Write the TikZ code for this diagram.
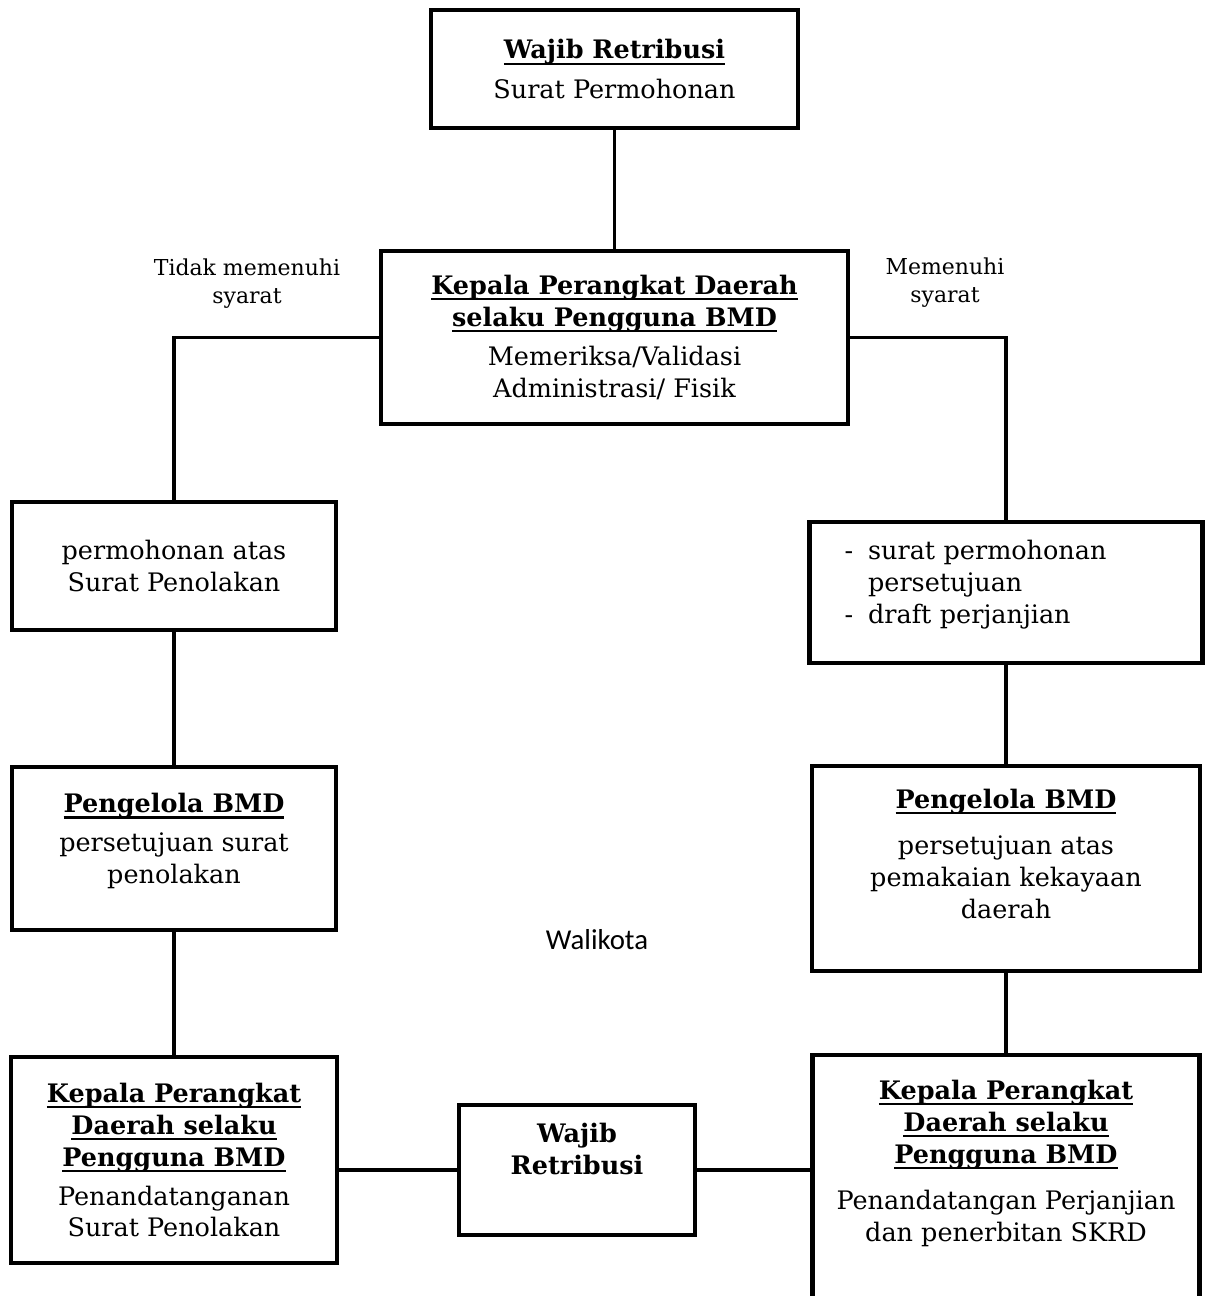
\documentclass[tikz,border=0pt]{standalone}
\usepackage{fontspec}
\setmainfont{DejaVu Serif}
\newfontfamily\walifont{Carlito}
\usetikzlibrary{positioning}

\newsavebox\headbox
\newcommand{\ulhead}[1]{\sbox\headbox{\textbf{#1}}\usebox\headbox\llap{\rule[-3.2pt]{\wd\headbox}{1.2pt}}}

\begin{document}
\begin{tikzpicture}[node distance=3cm,on grid,
        box/.style={draw,line width=2.3pt,align=center,inner sep=2pt,
                    font=\fontsize{14.5pt}{18.2pt}\selectfont},
        note/.style={align=center,font=\fontsize{12.5pt}{15.9pt}\selectfont},
        link/.style={line width=1.8pt}]
        \useasboundingbox (0,0) rectangle (24.16,-25.92);
        \node[box,minimum width=7.34cm,minimum height=2.36cm] (wr) at (12.29,-1.38)
            {\ulhead{Wajib Retribusi}\\[4pt]Surat Permohonan};
        \node[box,minimum width=9.34cm,minimum height=3.46cm] (kpd) [below=5.37cm of wr]
            {\ulhead{Kepala Perangkat Daerah}\\\ulhead{selaku Pengguna BMD}\\[4pt]Memeriksa/Validasi\\Administrasi/ Fisik};
        \node[box,minimum width=6.48cm,minimum height=2.56cm] (plk) [below left=4.57cm and 8.81cm of kpd]
            {permohonan atas\\Surat Penolakan};
        \node[box,minimum width=6.48cm,minimum height=3.26cm] (pg_1) [below=5.65cm of plk]
            {\ulhead{Pengelola BMD}\\[4pt]persetujuan surat\\penolakan\\[-12.5pt]\strut};
        \node[box,minimum width=6.52cm,minimum height=4.12cm] (kpd_l) [below=6.23cm of pg_1]
            {\ulhead{Kepala Perangkat}\\\ulhead{Daerah selaku}\\\ulhead{Pengguna BMD}\\[4pt]Penandatanganan\\Surat Penolakan};
        \node[box,minimum width=4.72cm,minimum height=2.6cm] (wrb) [below right=0.2cm and 8.06cm of kpd_l]
            {\textbf{Wajib}\\\textbf{Retribusi}\\\strut};
        \node[box,align=left,text width=6.46cm,inner xsep=0.7cm,minimum height=2.82cm] (ppr) [below right=5.1cm and 7.83cm of kpd]
            {\begin{tabular}{@{}l@{\hspace{0.3cm}}l@{}}
             -&surat permohonan\\&persetujuan\\-&draft perjanjian\\[-10pt]&\strut
             \end{tabular}};
        \node[box,minimum width=7.76cm,minimum height=4.1cm] (pg_2) [below=5.52cm of ppr]
            {\ulhead{Pengelola BMD}\\[8pt]persetujuan atas\\pemakaian kekayaan\\daerah\\[-6.8pt]\strut};
        \node[box,minimum width=7.74cm,minimum height=5.06cm] (kpd_r) [below=6.26cm of pg_2]
            {\ulhead{Kepala Perangkat}\\\ulhead{Daerah selaku}\\\ulhead{Pengguna BMD}\\[8pt]Penandatangan Perjanjian\\dan penerbitan SKRD\\\strut};
        \node[note] (tms) [above left=1.07cm and 7.35cm of kpd] {Tidak memenuhi\\syarat};
        \node[note] (ms) [above right=1.09cm and 6.61cm of kpd] {Memenuhi\\syarat};
        \node[font=\walifont\fontsize{16.4pt}{19pt}\selectfont] (wali) [below left=12.05cm and 0.35cm of kpd] {Walikota};
        \draw[link] (wr) -- (kpd);
        \draw[link] (kpd.west) -| (plk.north);
        \draw[link] (kpd.east) -| (ppr.north);
        \draw[link] (plk) -- (pg_1);
        \draw[link] (pg_1) -- (kpd_l);
        \draw[link] (ppr) -- (pg_2);
        \draw[link] (pg_2) -- (kpd_r);
        \draw[link] (wrb.west) -- (wrb.west -| kpd_l.east);
        \draw[link] (wrb.east) -- (wrb.east -| kpd_r.west);
      \end{tikzpicture}
\end{document}
